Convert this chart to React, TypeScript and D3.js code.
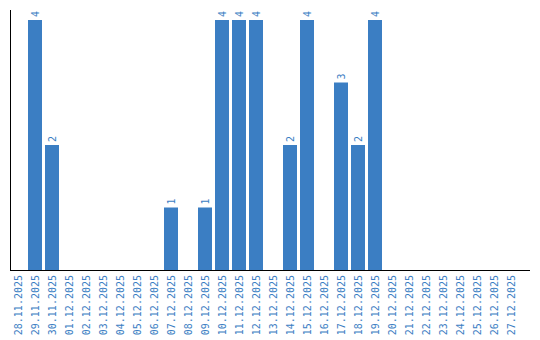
import React from "react";
import * as d3 from "d3";

const dates = [
  "28.11.2025", "29.11.2025", "30.11.2025", "01.12.2025", "02.12.2025", "03.12.2025",
  "04.12.2025", "05.12.2025", "06.12.2025", "07.12.2025", "08.12.2025", "09.12.2025",
  "10.12.2025", "11.12.2025", "12.12.2025", "13.12.2025", "14.12.2025", "15.12.2025",
  "16.12.2025", "17.12.2025", "18.12.2025", "19.12.2025", "20.12.2025", "21.12.2025",
  "22.12.2025", "23.12.2025", "24.12.2025", "25.12.2025", "26.12.2025", "27.12.2025",
];
const counts = [0, 4, 2, 0, 0, 0, 0, 0, 0, 1, 0, 1, 4, 4, 4, 0, 2, 4, 0, 3, 2, 4, 0, 0, 0, 0, 0, 0, 0, 0];

const W = 540;
const H = 340;
const left = 11;
const axisRight = 530;
const baseY = 270;
const color = "#3b7ec3";
const font = "'DejaVu Sans Mono', monospace";

export default function App() {
  const x = d3
    .scaleBand<string>()
    .domain(dates)
    .range([left, left + 17 * (dates.length - 3 / 17)])
    .paddingInner(3 / 17)
    .paddingOuter(0);
  const y = d3.scaleLinear().domain([0, 4]).range([baseY, 20]);
  const bw = x.bandwidth();

  return (
    <svg width={W} height={H} style={{ position: "absolute", left: 0, top: 0 }}>
      {dates.map((d, i) => {
        const v = counts[i];
        if (!v) return null;
        const bx = x(d)!;
        return (
          <rect key={d} x={bx} y={y(v)} width={bw} height={baseY - y(v)} fill={color} />
        );
      })}
      {dates.map((d, i) => {
        const v = counts[i];
        if (!v) return null;
        const cx = x(d)! + bw / 2;
        const ty = y(v) - 3;
        return (
          <text
            key={"v" + d}
            transform={`translate(${cx},${ty}) rotate(-90)`}
            dy="0.35em"
            textAnchor="start"
            fontFamily={font}
            fontSize={10}
            fill={color}
          >
            {v}
          </text>
        );
      })}
      <line x1={10.5} x2={10.5} y1={10} y2={baseY} stroke="#000" strokeWidth={1} />
      <line x1={10} x2={axisRight} y1={baseY + 0.5} y2={baseY + 0.5} stroke="#000" strokeWidth={1} />
      {dates.map((d) => {
        const cx = x(d)! + bw / 2;
        return (
          <text
            key={"l" + d}
            transform={`translate(${cx},275) rotate(-90)`}
            dy="0.35em"
            textAnchor="end"
            fontFamily={font}
            fontSize={10}
            fill={color}
          >
            {d}
          </text>
        );
      })}
    </svg>
  );
}
